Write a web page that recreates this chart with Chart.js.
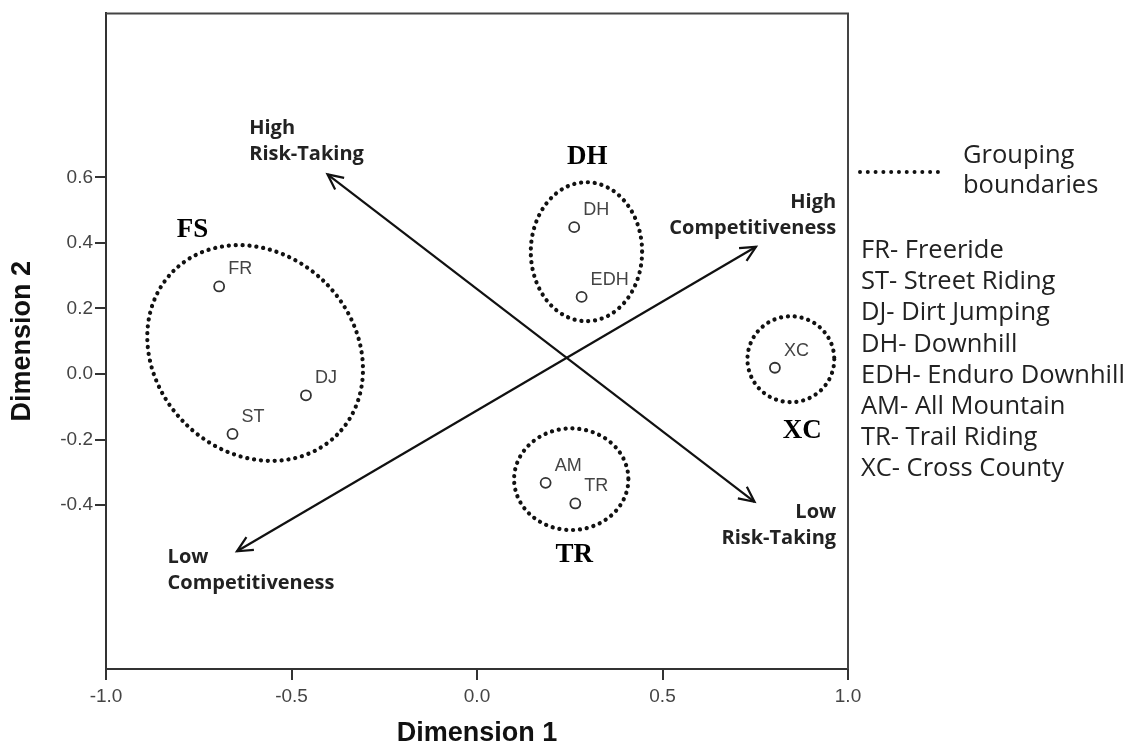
<!DOCTYPE html>
<html lang="en">
<head>
<meta charset="UTF-8">
<title>MDS: Mountain Bike Disciplines</title>
<script src="https://cdn.jsdelivr.net/npm/chart.js"></script>
<style>
  html, body { margin: 0; padding: 0; background: #fff; }
  .wrap { position: relative; width: 1133px; height: 747px; }
  .legend { position: absolute; left: 0; top: 0; font-family: "Open Sans", sans-serif; font-size: 25.5px; color: #222; }
  .legend div { position: absolute; white-space: nowrap; line-height: 30px; }
  .dots { position: absolute; left: 858px; top: 170px; width: 82px; border-top: 4px dotted #111; }
</style>
</head>
<body>
<div class="wrap">
  <canvas id="mdsChart"></canvas>
  <div class="legend" id="legend">
    <span class="dots"></span>
  </div>
</div>
<script>
// stimulus points (Dimension 1 / Dimension 2)
const sportCodes = ['FR', 'ST', 'DJ', 'DH', 'EDH', 'AM', 'TR', 'XC'];
const dim1 = [-0.695, -0.659, -0.461, 0.262, 0.282, 0.185, 0.265, 0.803];
const dim2 = [0.267, -0.183, -0.065, 0.448, 0.235, -0.332, -0.395, 0.019];

const xTicks = [-1.0, -0.5, 0.0, 0.5, 1.0];
const yTicks = [-0.4, -0.2, 0.0, 0.2, 0.4, 0.6];

// grouping boundaries (dotted ellipses)
const groupNames = ['FS', 'DH', 'XC', 'TR'];
const groupCx = [-0.598, 0.295, 0.846, 0.254];
const groupCy = [0.064, 0.373, 0.045, -0.321];
const groupRx = [0.312, 0.150, 0.117, 0.154];
const groupRy = [0.303, 0.212, 0.131, 0.155];
const groupTilt = [45, 0, 0, 0];
const groupLabelX = [-0.767, 0.297, 0.877, 0.262];
const groupLabelY = [0.439, 0.661, -0.173, -0.552];

// interpretation axes (double headed arrows)
const axisNames = ['Risk-Taking', 'Competitiveness'];
const axisFrom = [[-0.403, 0.609], [-0.647, -0.541]];
const axisTo = [[0.748, -0.390], [0.752, 0.388]];

const axisLabels = [['High', 'Risk-Taking'], ['Low', 'Competitiveness'], ['High', 'Competitiveness'], ['Low', 'Risk-Taking']];
const axisLabelX = [-0.614, -0.834, 0.968, 0.968];
const axisLabelY = [0.748, -0.558, 0.524, -0.421];
const axisLabelAlign = ['left', 'left', 'right', 'right'];

const legendItems = ['FR- Freeride', 'ST- Street Riding', 'DJ- Dirt Jumping', 'DH- Downhill',
  'EDH- Enduro Downhill', 'AM- All Mountain', 'TR- Trail Riding', 'XC- Cross County'];

// legend text on the right
const legend = document.getElementById('legend');
function addLine(text, left, top) {
  const d = document.createElement('div');
  d.textContent = text;
  d.style.left = left + 'px';
  d.style.top = top + 'px';
  legend.appendChild(d);
}
addLine('Grouping', 963, 138);
addLine('boundaries', 963, 168);
legendItems.forEach((t, i) => addLine(t, 861, 233 + i * 31.2));

function arrowHead(ctx, x1, y1, x2, y2) {
  const ang = Math.atan2(y2 - y1, x2 - x1);
  const len = 17, spread = Math.PI / 7;
  ctx.beginPath();
  ctx.moveTo(x2 - len * Math.cos(ang - spread), y2 - len * Math.sin(ang - spread));
  ctx.lineTo(x2, y2);
  ctx.lineTo(x2 - len * Math.cos(ang + spread), y2 - len * Math.sin(ang + spread));
  ctx.stroke();
}

const overlay = {
  id: 'overlay',
  beforeDatasetsDraw(chart) {
    const {ctx, scales: {x, y}} = chart;
    const pxX = x.getPixelForValue(1) - x.getPixelForValue(0);
    const pxY = y.getPixelForValue(0) - y.getPixelForValue(1);
    ctx.save();
    // dotted ellipses
    ctx.strokeStyle = '#111';
    ctx.lineWidth = 4.2;
    ctx.lineCap = 'round';
    ctx.setLineDash([0.1, 6.8]);
    groupNames.forEach((g, i) => {
      ctx.beginPath();
      ctx.ellipse(x.getPixelForValue(groupCx[i]), y.getPixelForValue(groupCy[i]),
        groupRx[i] * pxX, groupRy[i] * pxY, groupTilt[i] * Math.PI / 180, 0, Math.PI * 2);
      ctx.stroke();
    });
    // arrows
    ctx.setLineDash([]);
    ctx.lineCap = 'butt';
    ctx.lineWidth = 2.2;
    ctx.strokeStyle = '#111';
    axisNames.forEach((n, i) => {
      const x1 = x.getPixelForValue(axisFrom[i][0]), y1 = y.getPixelForValue(axisFrom[i][1]);
      const x2 = x.getPixelForValue(axisTo[i][0]), y2 = y.getPixelForValue(axisTo[i][1]);
      ctx.beginPath();
      ctx.moveTo(x1, y1);
      ctx.lineTo(x2, y2);
      ctx.stroke();
      arrowHead(ctx, x1, y1, x2, y2);
      arrowHead(ctx, x2, y2, x1, y1);
    });
    ctx.restore();
  },
  afterDatasetsDraw(chart) {
    const {ctx, chartArea: a, scales: {x, y}} = chart;
    ctx.save();
    // top and right frame
    ctx.strokeStyle = '#444';
    ctx.lineWidth = 2;
    ctx.beginPath();
    ctx.moveTo(a.left, a.top);
    ctx.lineTo(a.right, a.top);
    ctx.lineTo(a.right, a.bottom);
    ctx.stroke();

    // point labels
    ctx.fillStyle = '#444';
    ctx.font = '18px "Liberation Sans", Arial, sans-serif';
    ctx.textAlign = 'left';
    ctx.textBaseline = 'middle';
    sportCodes.forEach((c, i) => {
      ctx.fillText(c, x.getPixelForValue(dim1[i]) + 9, y.getPixelForValue(dim2[i]) - 17);
    });

    // axis interpretation labels
    ctx.fillStyle = '#222';
    ctx.font = 'bold 20px "Open Sans", sans-serif';
    axisLabels.forEach((lines, i) => {
      ctx.textAlign = axisLabelAlign[i];
      lines.forEach((t, j) => {
        ctx.fillText(t, x.getPixelForValue(axisLabelX[i]), y.getPixelForValue(axisLabelY[i]) + j * 26);
      });
    });

    // group labels
    ctx.fillStyle = '#000';
    ctx.font = 'bold 27px "Liberation Serif", "Times New Roman", serif';
    ctx.textAlign = 'center';
    groupNames.forEach((g, i) => {
      ctx.fillText(g, x.getPixelForValue(groupLabelX[i]), y.getPixelForValue(groupLabelY[i]));
    });
    ctx.restore();
  }
};

const ctx = document.getElementById('mdsChart').getContext('2d');
const mdsChart = new Chart(ctx, {
  type: 'scatter',
  data: {
    datasets: [{
      label: 'Disciplines',
      data: dim1.map((v, i) => ({x: v, y: dim2[i]})),
      pointStyle: 'circle',
      pointRadius: 5,
      pointBorderWidth: 1.8,
      pointBorderColor: '#333',
      pointBackgroundColor: 'rgba(255,255,255,0)'
    }]
  },
  options: {
    responsive: true,
    maintainAspectRatio: false,
    animation: false,
    layout: { padding: { top: 11, right: 285, bottom: 0, left: 0 } },
    plugins: { legend: { display: false }, tooltip: { enabled: false } },
    scales: {
      x: {
        type: 'linear', min: -1, max: 1,
        afterBuildTicks: s => { s.ticks = xTicks.map(v => ({value: v})); },
        afterFit: s => { s.height = 78; },
        grid: { display: true, drawOnChartArea: false, drawTicks: true, tickLength: 11, color: '#333', lineWidth: 2 },
        border: { display: true, color: '#333', width: 2 },
        ticks: { padding: 5, color: '#444', font: { family: 'Liberation Sans', size: 19 }, callback: v => v.toFixed(1) },
        title: { display: true, text: 'Dimension 1', color: '#111', padding: { top: 0, bottom: -3 },
          font: { family: 'Liberation Sans', size: 27, weight: 'bold' } }
      },
      y: {
        type: 'linear', min: -0.9, max: 1.1,
        afterBuildTicks: s => { s.ticks = yTicks.map(v => ({value: v})); },
        afterFit: s => { s.width = 106; },
        grid: { display: true, drawOnChartArea: false, drawTicks: true, tickLength: 11, color: '#333', lineWidth: 2 },
        border: { display: true, color: '#333', width: 2 },
        ticks: { padding: 2, color: '#444', font: { family: 'Liberation Sans', size: 19 }, callback: v => v.toFixed(1) },
        title: { display: true, text: 'Dimension 2', color: '#111', padding: { top: 6, bottom: 0 },
          font: { family: 'Liberation Sans', size: 27, weight: 'bold' } }
      }
    }
  },
  plugins: [overlay]
});
</script>
</body>
</html>
